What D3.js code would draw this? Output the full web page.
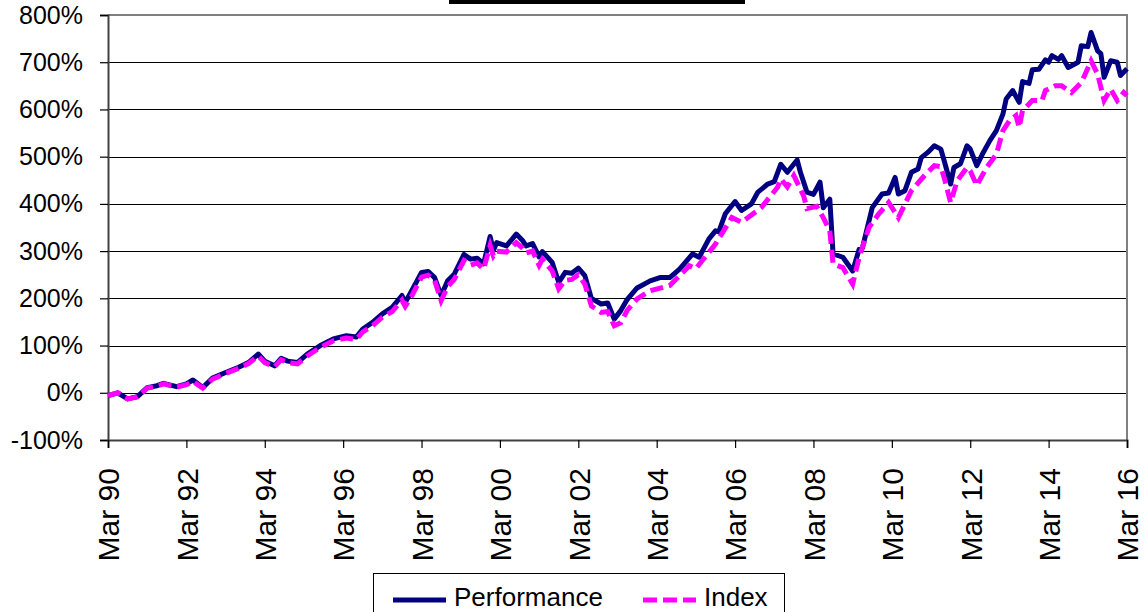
<!DOCTYPE html>
<html>
<head>
<meta charset="utf-8">
<script src="https://cdn.jsdelivr.net/npm/d3@7"></script>
<style>
    body { margin: 0; background: #fff; }
    svg { display: block; font-family: "Liberation Sans", Arial, sans-serif; }
</style>
</head>
<body>
<div id="chart"></div>
<script>
// months counted from Mar 1990
var perfMonths = [0, 3, 6, 9, 12, 15, 17, 21, 24, 26, 29, 32, 36, 40, 43, 46, 48, 51, 53, 55, 58, 61, 65, 69, 73, 76, 78, 81,
    84, 87, 90, 91, 93, 96, 98, 100, 102, 104, 106, 109, 111, 113, 115, 117, 118, 119, 122, 125, 127, 128, 130, 132, 133,
    136, 138, 140, 142, 144, 146, 148, 151, 153, 155, 157, 159, 162, 166, 169, 172, 175, 179, 181, 184, 186, 187, 189,
    192, 194, 197, 199, 202, 204, 206, 208, 211, 212, 214, 216, 218, 219, 221, 222, 225, 228, 230, 231, 234, 237, 239,
    241, 242, 244, 246, 248, 249, 251, 253, 255, 256, 258, 259, 261, 263, 264, 266, 268, 270, 272, 274, 275, 277, 279,
    280, 282, 283, 285, 287, 288, 289, 291, 292, 294, 297, 298, 300, 301, 303, 304, 305, 307, 309, 310, 312];
var perfValues = [-6, 0, -13, -8, 11, 15, 20, 13, 19, 27, 11, 31, 43, 54, 64, 82, 67, 57, 73, 67, 64, 82, 100, 114, 121, 118, 135, 149,
    167, 181, 206, 191, 216, 255, 257, 244, 206, 237, 251, 293, 283, 285, 273, 331, 301, 318, 311, 336, 322, 311, 316, 288, 299,
    276, 234, 255, 253, 264, 248, 200, 188, 190, 156, 174, 198, 222, 237, 244, 244, 262, 294, 287, 326, 343, 341, 379,
    405, 386, 400, 425, 442, 447, 484, 467, 493, 467, 425, 420, 446, 392, 410, 294, 287, 258, 304, 307, 392, 421, 423,
    456, 421, 428, 467, 474, 498, 509, 523, 516, 492, 442, 477, 485, 523, 516, 481, 509, 534, 555, 590, 622, 640, 615,
    659, 655, 684, 685, 705, 700, 714, 706, 714, 689, 700, 735, 733, 763, 724, 718, 668, 703, 700, 672, 686];

var indexMonths = [0, 3, 6, 9, 12, 15, 17, 21, 24, 26, 29, 32, 36, 40, 43, 46, 48, 51, 53, 55, 58, 61, 65, 69, 73, 76, 78, 81,
    84, 87, 90, 91, 93, 96, 98, 100, 102, 104, 106, 109, 111, 113, 115, 117, 118, 119, 122, 125, 127, 128, 130, 132, 133,
    136, 138, 140, 142, 144, 146, 148, 151, 153, 155, 157, 159, 162, 166, 172, 178, 180, 186, 191, 194, 200, 205, 206,
    208, 210, 213, 214, 217, 219, 221, 222, 225, 228, 230, 233, 236, 239, 242, 246, 250, 253, 255, 256, 258, 260, 263,
    264, 266, 269, 272, 274, 276, 278, 279, 280, 283, 286, 287, 290, 292, 295, 298, 299, 301, 303, 305, 307, 309, 311, 312];
var indexValues = [-6, 0, -13, -9, 10, 14, 19, 12, 17, 24, 10, 29, 41, 52, 62, 78, 64, 55, 70, 64, 61, 78, 96, 110, 116, 113, 129, 142,
    160, 172, 196, 183, 205, 245, 249, 238, 195, 225, 240, 280, 270, 275, 262, 312, 290, 300, 298, 318, 306, 296, 300, 270, 283,
    258, 220, 238, 240, 250, 230, 184, 170, 172, 142, 148, 175, 199, 216, 227, 269, 263, 315, 371, 361, 392, 435, 453,
    436, 460, 417, 390, 395, 371, 343, 273, 265, 230, 287, 350, 379, 403, 371, 428, 460, 481, 479, 456, 403, 449, 477,
    470, 439, 477, 505, 555, 576, 587, 562, 597, 619, 619, 640, 650, 650, 636, 657, 672, 703, 675, 619, 643, 619, 636, 629];

var tickMonths = [0, 24, 48, 72, 96, 120, 144, 168, 192, 216, 240, 264, 288, 312];
var tickLabels = ["Mar 90", "Mar 92", "Mar 94", "Mar 96", "Mar 98", "Mar 00", "Mar 02", "Mar 04",
    "Mar 06", "Mar 08", "Mar 10", "Mar 12", "Mar 14", "Mar 16"];
var yTicks = [-100, 0, 100, 200, 300, 400, 500, 600, 700, 800];

function makeChart() {
    var width = 1146, height = 612;
    var plot = { left: 108, right: 1127, top: 15, bottom: 440 };

    var svg = d3.select("#chart").append("svg")
        .attr("width", width)
        .attr("height", height);

    var x = d3.scaleLinear().domain([0, 312]).range([plot.left, plot.right]);
    var y = d3.scaleLinear().domain([-100, 800]).range([plot.bottom, plot.top]);

    // title box, mostly cut off at the top
    svg.append("rect")
        .attr("x", 449).attr("y", -10)
        .attr("width", 296).attr("height", 14)
        .attr("fill", "#000");

    // grid lines
    svg.selectAll(".grid")
        .data(yTicks.filter((d) => d > -100 && d < 800))
        .enter()
        .append("line")
        .attr("x1", plot.left).attr("x2", plot.right)
        .attr("y1", (d) => Math.round(y(d)) + 0.5)
        .attr("y2", (d) => Math.round(y(d)) + 0.5)
        .attr("stroke", "#000")
        .attr("stroke-width", 1.2);

    // top and right border
    svg.append("path")
        .attr("d", "M" + plot.left + "," + plot.top + "H" + plot.right + "V" + plot.bottom)
        .attr("fill", "none")
        .attr("stroke", "#808080")
        .attr("stroke-width", 2);

    var yAxis = svg.append("g")
        .attr("transform", "translate(" + plot.left + ",0)")
        .call(d3.axisLeft(y).tickValues(yTicks).tickSize(8).tickPadding(17).tickFormat((d) => d + "%"));
    yAxis.select(".domain").attr("stroke", "#404040").attr("stroke-width", 2);
    yAxis.selectAll("line").attr("stroke", "#000").attr("stroke-width", 1.2);
    yAxis.selectAll("text")
        .attr("fill", "#000")
        .style("font-size", "25px")
        .style("font-family", "'Liberation Sans', Arial, sans-serif");

    var xAxis = svg.append("g")
        .attr("transform", "translate(0," + plot.bottom + ")")
        .call(d3.axisBottom(x).tickValues(tickMonths).tickSize(8).tickFormat((d, i) => tickLabels[i]));
    xAxis.select(".domain").attr("stroke", "#404040").attr("stroke-width", 2);
    xAxis.selectAll("line").attr("stroke", "#000").attr("stroke-width", 1.2);
    xAxis.selectAll("text")
        .attr("fill", "#000")
        .style("font-size", "30px")
        .style("font-family", "'Liberation Sans', Arial, sans-serif")
        .attr("text-anchor", "end")
        .attr("transform", "rotate(-90)")
        .attr("x", -28)
        .attr("y", 0)
        .attr("dy", "0.36em");

    var perf = perfMonths.map((m, i) => ({ m: m, v: perfValues[i] }));
    var idx = indexMonths.map((m, i) => ({ m: m, v: indexValues[i] }));

    var line = d3.line()
        .x((d) => x(d.m))
        .y((d) => y(d.v));

    svg.append("path")
        .datum(perf)
        .attr("fill", "none")
        .attr("stroke", "#000080")
        .attr("stroke-width", 5)
        .attr("stroke-linejoin", "round")
        .attr("d", line);

    svg.append("path")
        .datum(idx)
        .attr("fill", "none")
        .attr("stroke", "#ff00ff")
        .attr("stroke-width", 5)
        .attr("stroke-dasharray", "13,6")
        .attr("d", line);

    // legend
    var legend = svg.append("g");
    legend.append("rect")
        .attr("x", 373.5).attr("y", 573.5)
        .attr("width", 411).attr("height", 50)
        .attr("fill", "#fff")
        .attr("stroke", "#000")
        .attr("stroke-width", 1);

    var legendItems = [
        { name: "Performance", color: "#000080", dash: null, x: 393 },
        { name: "Index", color: "#ff00ff", dash: "14,6", x: 643 },
    ];
    legendItems.forEach((d) => {
        legend.append("line")
            .attr("x1", d.x).attr("x2", d.x + 53)
            .attr("y1", 600).attr("y2", 600)
            .attr("stroke", d.color)
            .attr("stroke-width", 5)
            .attr("stroke-dasharray", d.dash);
        legend.append("text")
            .attr("x", d.x + 61)
            .attr("y", 606)
            .style("font-size", "26px")
            .text(d.name);
    });
}

makeChart();
</script>
</body>
</html>
